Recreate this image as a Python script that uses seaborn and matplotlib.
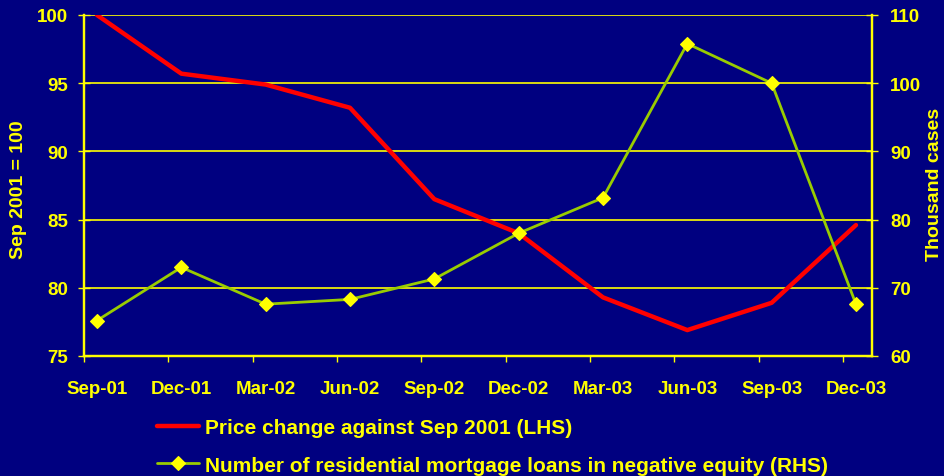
import matplotlib
matplotlib.use("Agg")
import matplotlib.pyplot as plt
from matplotlib.ticker import FixedLocator
import seaborn as sns
import numpy as np
import pandas as pd

# ----------------------------------------------------------------------
# Data
# ----------------------------------------------------------------------
quarters = ["Sep-01", "Dec-01", "Mar-02", "Jun-02", "Sep-02",
            "Dec-02", "Mar-03", "Jun-03", "Sep-03", "Dec-03"]
price_index = [100.0, 95.7, 94.9, 93.2, 86.5, 84.0, 79.3, 76.9, 78.9, 84.6]
negative_equity = [65.2, 73.0, 67.6, 68.3, 71.3, 78.0, 83.2, 105.8, 100.0, 67.6]

price_label = "Price change against Sep 2001 (LHS)"
equity_label = "Number of residential mortgage loans in negative equity (RHS)"

NAVY = "#000080"
YELLOW = "#FFFF00"
RED = "#FF0000"
GREEN = "#99CC00"

df = pd.DataFrame({
    "pos": np.arange(len(quarters)),
    "quarter": quarters,
    "price": price_index,
    "equity": negative_equity,
})

sns.set_theme(style="white")
plt.rcParams["font.family"] = ["Liberation Sans", "DejaVu Sans"]
plt.rcParams["font.weight"] = "bold"

fig = plt.figure(figsize=(9.45, 4.77), dpi=100, facecolor=NAVY)
ax = fig.add_axes([84 / 945, 1 - 357 / 477, 788 / 945, 341 / 477])
ax.set_facecolor(NAVY)

# ----------------------------------------------------------------------
# Lines
# ----------------------------------------------------------------------
sns.lineplot(data=df, x="pos", y="price", ax=ax, color=RED, linewidth=3.2,
             label=price_label, legend=False, zorder=3)

ax2 = ax.twinx()
sns.lineplot(data=df, x="pos", y="equity", ax=ax2, color=GREEN, linewidth=2,
             marker="D", markersize=7, markerfacecolor=YELLOW,
             markeredgecolor=YELLOW, markeredgewidth=0.8,
             label=equity_label, legend=False, zorder=4)

# ----------------------------------------------------------------------
# Axes styling
# ----------------------------------------------------------------------
ax.set_xlim(-0.154, 9.19)
ax.set_ylim(75, 100)
ax2.set_ylim(60, 110)
ax.set_yticks(np.arange(75, 101, 5))
ax2.set_yticks(np.arange(60, 111, 10))

ax.set_xticks(df["pos"])
ax.set_xticklabels(quarters)
ax.xaxis.set_minor_locator(FixedLocator(df["pos"] - 0.154))
ax.tick_params(axis="x", which="major", length=0, pad=17,
               labelsize=13.5, labelcolor=YELLOW)
ax.tick_params(axis="x", which="minor", length=4.5, width=1, color=YELLOW,
               direction="out", bottom=True)
ax.tick_params(axis="y", length=8.5, width=1, color=YELLOW, direction="inout",
               labelsize=13.5, labelcolor=YELLOW, pad=7, left=True)
ax2.tick_params(axis="y", length=8, width=1, color=YELLOW, direction="inout",
                labelsize=13.5, labelcolor=YELLOW, pad=9, right=True)

ax.grid(axis="y", color=YELLOW, linewidth=1.2)
ax.grid(axis="x", visible=False)
ax2.grid(False)
ax.set_axisbelow(True)

for a in (ax, ax2):
    for side in ("left", "right", "bottom"):
        a.spines[side].set_color(YELLOW)
        a.spines[side].set_linewidth(1.6)
    a.spines["top"].set_visible(False)

ax.set_xlabel("")
ax.set_ylabel("Sep 2001 = 100", color=YELLOW, fontsize=14, fontweight="bold")
ax.yaxis.set_label_coords(-0.0723, 0.49)
ax2.set_ylabel("Thousand cases", color=YELLOW, fontsize=14, fontweight="bold")
ax2.yaxis.set_label_coords(1.069, 0.505)

# ----------------------------------------------------------------------
# Legend
# ----------------------------------------------------------------------
h1, l1 = ax.get_legend_handles_labels()
h2, l2 = ax2.get_legend_handles_labels()
leg = fig.legend(h1 + h2, l1 + l2, loc="upper left",
                 bbox_to_anchor=(157 / 945, 1 - 419 / 477),
                 bbox_transform=fig.transFigure, frameon=False,
                 fontsize=15, handlelength=2.0, handletextpad=0.3,
                 borderpad=0, borderaxespad=0, labelspacing=0.9,
                 markerscale=1.0)
for t in leg.get_texts():
    t.set_color(YELLOW)
    t.set_fontweight("bold")

fig.savefig("out.png", dpi=100, facecolor=NAVY)
